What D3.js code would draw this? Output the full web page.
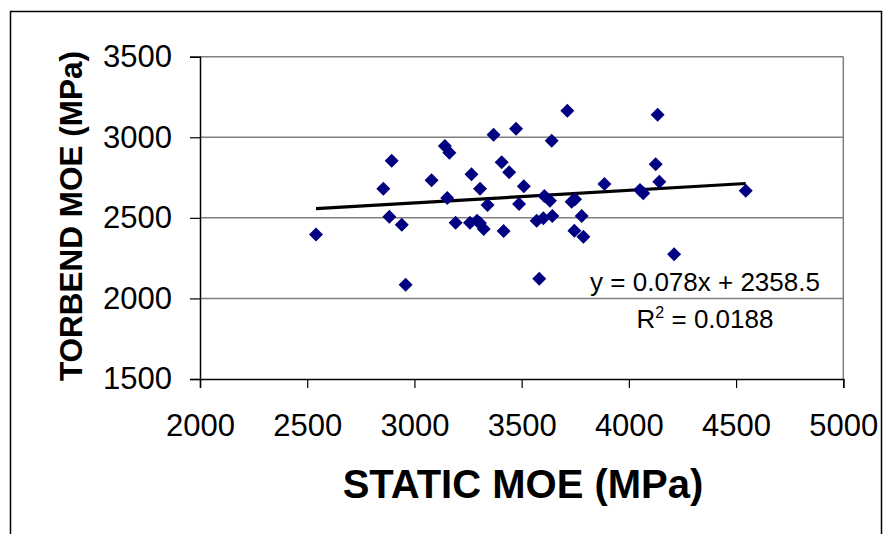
<!DOCTYPE html>
<html>
<head>
<meta charset="utf-8">
<script src="https://cdn.jsdelivr.net/npm/d3@7"></script>
<style>
  html, body { margin: 0; padding: 0; background: #fff; }
  svg { display: block; font-family: "Liberation Sans", Arial, sans-serif; }
</style>
</head>
<body>
<svg id="chart" width="884" height="534"></svg>
<script>
// data (MPa)
const staticMoe = [2541, 2855, 2894, 2883, 2941, 2959, 3080, 3142, 3163, 3153,
                   3192, 3266, 3306, 3341, 3259, 3292, 3305, 3323, 3416, 3369,
                   3474, 3713, 3640, 3407, 3442, 3510, 3488, 3606, 3632, 3733,
                   3749, 3886, 4134, 4125, 4142, 4052, 4067, 4545, 3570, 3601,
                   3643, 3780, 3746, 3788, 3582, 4211];
const torbendMoe = [2396, 2681, 2855, 2507, 2457, 2085, 2733, 2946, 2904, 2623,
                    2470, 2770, 2681, 2580, 2470, 2482, 2468, 2431, 2418, 3016,
                    3053, 3165, 2979, 2845, 2783, 2696, 2586, 2636, 2606, 2600,
                    2615, 2710, 3140, 2832, 2724, 2673, 2652, 2668, 2482, 2497,
                    2511, 2511, 2420, 2383, 2122, 2274];
const xTicks = [2000, 2500, 3000, 3500, 4000, 4500, 5000];
const yTicks = [1500, 2000, 2500, 3000, 3500];
const trendSlope = 0.078;
const trendIntercept = 2358.5;
const r2 = "0.0188";

const points = staticMoe.map((x, i) => ({ x, y: torbendMoe[i] }));

const svg = d3.select("#chart");
const plot = { left: 200, right: 843.3, top: 56.7, bottom: 379 };

const x = d3.scaleLinear().domain([2000, 5000]).range([plot.left, plot.right]);
const y = d3.scaleLinear().domain([1500, 3500]).range([plot.bottom, plot.top]);

// outer chart frame
svg.append("rect").attr("x", 10.5).attr("y", 11.5).attr("width", 871).attr("height", 600)
  .attr("fill", "none").attr("stroke", "#000").attr("stroke-width", 1.5);

// gridlines
svg.append("g").selectAll("line").data(yTicks.slice(1)).join("line")
  .attr("x1", plot.left).attr("x2", plot.right)
  .attr("y1", d => y(d)).attr("y2", d => y(d))
  .attr("stroke", "#808080").attr("stroke-width", 1.5);
svg.append("line").attr("x1", plot.right).attr("x2", plot.right)
  .attr("y1", plot.top).attr("y2", plot.bottom)
  .attr("stroke", "#808080").attr("stroke-width", 1.5);

// axes
const yAxis = svg.append("g").attr("transform", `translate(${plot.left},0)`)
  .call(d3.axisLeft(y).tickValues(yTicks).tickSize(10).tickPadding(18).tickFormat(d3.format("d")));
const xAxis = svg.append("g").attr("transform", `translate(0,${plot.bottom})`)
  .call(d3.axisBottom(x).tickValues(xTicks).tickSize(9).tickPadding(26).tickFormat(d3.format("d")));
[xAxis, yAxis].forEach(g => {
  g.select(".domain").attr("stroke", "#000").attr("stroke-width", 1.5);
  g.selectAll(".tick line").attr("stroke", "#000").attr("stroke-width", 1.2);
  g.selectAll("text").attr("fill", "#000").style("font-size", "31px")
    .style("font-family", "'Liberation Sans', Arial, sans-serif");
});

// trendline
const [xMin, xMax] = d3.extent(staticMoe);
svg.append("line")
  .attr("x1", x(xMin)).attr("y1", y(trendSlope * xMin + trendIntercept))
  .attr("x2", x(xMax)).attr("y2", y(trendSlope * xMax + trendIntercept))
  .attr("stroke", "#000").attr("stroke-width", 3.2);

// diamonds
svg.append("g").selectAll("path").data(points).join("path")
  .attr("d", d3.symbol(d3.symbolSquare, 98))
  .attr("transform", d => `translate(${x(d.x)},${y(d.y)}) rotate(45)`)
  .attr("fill", "#000080");

// equation
svg.append("text").attr("x", 705).attr("y", 291).attr("text-anchor", "middle")
  .style("font-size", "26px").text(`y = ${trendSlope}x + ${trendIntercept}`);
const rText = svg.append("text").attr("x", 705).attr("y", 328).attr("text-anchor", "middle")
  .style("font-size", "26px");
rText.append("tspan").text("R");
rText.append("tspan").attr("dy", -10).style("font-size", "16px").text("2");
rText.append("tspan").attr("dy", 10).text(` = ${r2}`);

// axis titles
svg.append("text").attr("x", 523).attr("y", 498).attr("text-anchor", "middle")
  .style("font-size", "40px").style("font-weight", "bold").text("STATIC MOE (MPa)");
svg.append("text").attr("transform", "translate(82,216) rotate(-90)").attr("text-anchor", "middle")
  .style("font-size", "31.5px").style("font-weight", "bold").text("TORBEND MOE (MPa)");
</script>
</body>
</html>
